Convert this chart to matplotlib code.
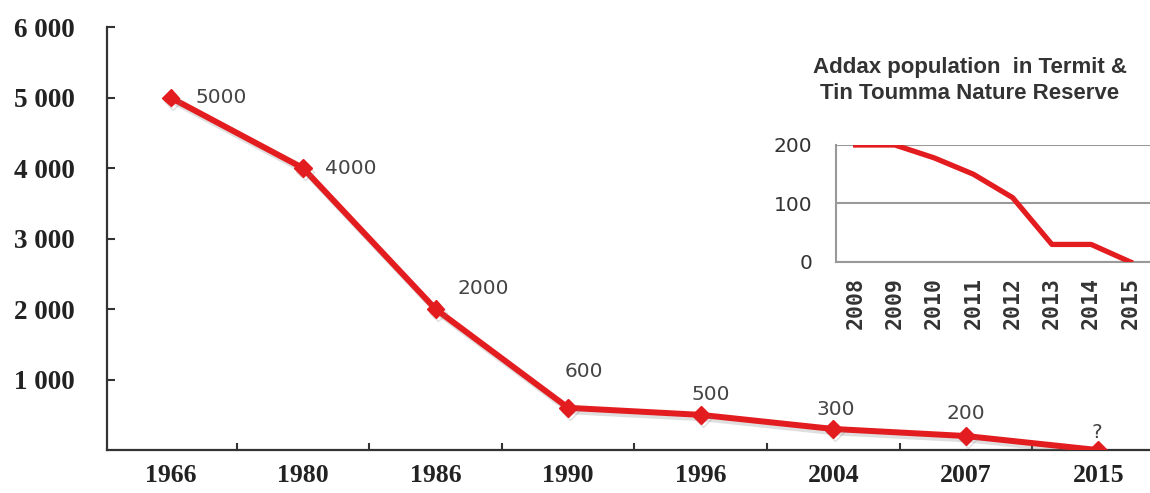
import matplotlib.pyplot as plt
import matplotlib.patheffects as pe

# main series: addax population estimates
years = ["1966", "1980", "1986", "1990", "1996", "2004", "2007", "2015"]
population = [5000, 4000, 2000, 600, 500, 300, 200, 0]
point_labels = ["5000", "4000", "2000", "600", "500", "300", "200", "?"]

# inset series: Termit & Tin Toumma Nature Reserve
inset_years = ["2008", "2009", "2010", "2011", "2012", "2013", "2014", "2015"]
inset_population = [200, 200, 178, 150, 110, 30, 30, 0]

y_ticks = [1000, 2000, 3000, 4000, 5000, 6000]
y_tick_labels = ["1 000", "2 000", "3 000", "4 000", "5 000", "6 000"]
inset_y_ticks = [0, 100, 200]

red = "#e31c1f"
dark = "#333333"

fig = plt.figure(figsize=(11.5, 4.93), dpi=100)

# main chart
ax = fig.add_axes([0.093, 0.087, 0.907, 0.858])
x = list(range(len(years)))
ax.plot(x, population, color=red, linewidth=4.3, marker="D", markersize=9,
        path_effects=[pe.SimpleLineShadow(offset=(1.5, -2.5), shadow_color="grey", alpha=0.25),
                      pe.Normal()], zorder=3)

# data labels: offsets in points (x, y), label centre relative to the marker
offsets = [(18, 0), (16, 0), (34, 15), (11, 26), (7, 15), (2, 14), (0, 16), (-1, 13)]
for i, (lab, off) in enumerate(zip(point_labels, offsets)):
    ax.annotate(lab, (x[i], population[i]), xytext=off, textcoords="offset points",
                ha="left" if i < 2 else "center", va="center",
                fontsize=14.5, color="#444444", family="DejaVu Sans")

ax.set_xlim(-0.48, 7.39)
ax.set_ylim(0, 6000)
ax.set_xticks(x)
ax.set_xticklabels(years)
ax.set_xticks([i + 0.5 for i in range(7)], minor=True)
ax.set_yticks(y_ticks)
ax.set_yticklabels(y_tick_labels)
for lab in ax.get_yticklabels():
    lab.set_family("Liberation Serif")
    lab.set_fontweight("bold")
    lab.set_fontsize(19.5)
    lab.set_color("#222222")
for lab in ax.get_xticklabels():
    lab.set_family("Liberation Serif")
    lab.set_fontweight("bold")
    lab.set_fontsize(18.5)
    lab.set_color("#222222")

ax.tick_params(axis="x", which="major", length=0, pad=10)
ax.tick_params(axis="x", which="minor", direction="in", length=5, width=1.5, color=dark)
ax.tick_params(axis="y", direction="in", length=6, width=1.5, color=dark, pad=23)
ax.spines["top"].set_visible(False)
ax.spines["right"].set_visible(False)
for s in ["left", "bottom"]:
    ax.spines[s].set_color(dark)
    ax.spines[s].set_linewidth(1.6)

# inset chart
ax_in = fig.add_axes([0.727, 0.4686, 0.273, 0.2373])
xi = list(range(len(inset_years)))
ax_in.plot(xi, inset_population, color=red, linewidth=3.8, solid_joinstyle="round", zorder=3)
ax_in.set_xlim(-0.5, 7.5)
ax_in.set_ylim(0, 200)
ax_in.set_yticks(inset_y_ticks)
ax_in.set_xticks(xi)
ax_in.set_xticklabels(inset_years, rotation=90, family="DejaVu Sans Mono",
                      fontweight="bold", fontsize=15.5, color="#333333")
for lab in ax_in.get_yticklabels():
    lab.set_fontsize(14.5)
    lab.set_color("#333333")
ax_in.tick_params(axis="both", length=0)
ax_in.tick_params(axis="y", pad=17)
ax_in.tick_params(axis="x", pad=11)
ax_in.grid(axis="y", color="#999999", linewidth=1.5)
ax_in.set_axisbelow(True)
ax_in.patch.set_alpha(0)
for s in ["top", "right"]:
    ax_in.spines[s].set_visible(False)
for s in ["left", "bottom"]:
    ax_in.spines[s].set_color("#999999")
    ax_in.spines[s].set_linewidth(1.5)

fig.text(0.8435, 0.836, "Addax population  in Termit &\nTin Toumma Nature Reserve",
         ha="center", va="center", fontsize=16, fontweight="bold",
         family="Liberation Sans", color="#333333", linespacing=1.3)

fig.savefig("out.png", dpi=100)
